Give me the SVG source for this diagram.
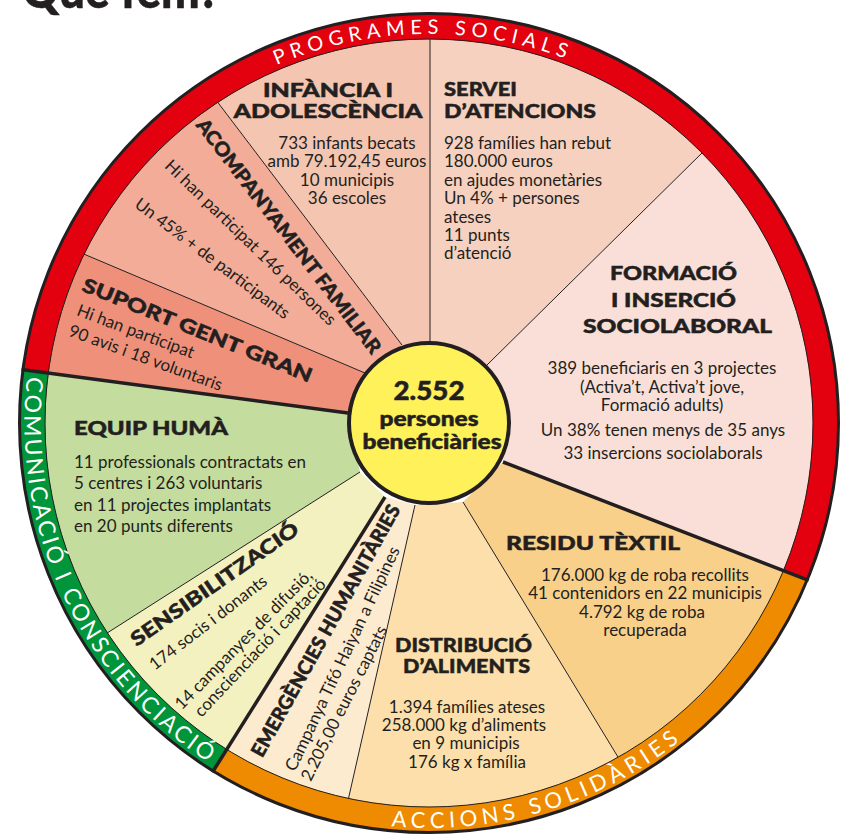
<svg xmlns="http://www.w3.org/2000/svg" width="854" height="835" viewBox="0 0 854 835">
<style>
.t{font-family:Lato,"Open Sans","Liberation Sans",sans-serif;fill:#231F20}
.h{font-weight:900;font-size:19.5px;stroke:#231F20;stroke-width:0.5}
.k{stroke:#231F20;stroke-width:0.5}
.b{font-size:17px}
.rt{font-family:Lato,"Open Sans","Liberation Sans",sans-serif;fill:#fff}
.thin{stroke:#231F20;stroke-width:1;fill:none}
.thick{stroke:#231F20;stroke-width:3.5;fill:none}
</style>
<defs>
<clipPath id="disk"><circle cx="429" cy="423" r="390"/></clipPath>
<path id="arcTop" d="M44.9,361.5 A389,389 0 0 1 811,349.4"/>
<path id="arcLeft" d="M96.2,192.9 A405,405 0 0 0 396.2,826.7"/>
<path id="arcBottom" d="M151.6,718.1 A405,405 0 0 0 823.3,515.5"/>
</defs>
<rect width="854" height="835" fill="#fff"/>
<text class="t k" x="22" y="8" font-size="52" font-weight="900" textLength="198" lengthAdjust="spacingAndGlyphs">Què fem?</text>

<g id="sectors" clip-path="url(#disk)">
<g id="infancia"><path d="M402,345 L34,-139 L430,-266 L430,342 Z" fill="#F4C5B1"/></g>
<g id="servei"><path d="M430,342 L430,-266 L917,-59 L487,365 Z" fill="#F7D1BF"/></g>
<g id="formacio"><path d="M487,365 L917,-59 L1071,682 L503,462 Z" fill="#F9DFD7"/></g>
<g id="residu"><path d="M503,462 L1071,682 L777,1018 L463,502 Z" fill="#F9D08A"/></g>
<g id="distribucio"><path d="M463,502 L777,1018 L281,1099 L415,505 Z" fill="#FCDFAA"/></g>
<g id="emergencies"><path d="M415,505 L281,1099 L67,1005 L385,497 Z" fill="#FDEBD0"/></g>
<g id="sensibilitzacio"><path d="M385,497 L67,1005 L-146,794 L360,472 Z" fill="#F4F1C1"/></g>
<g id="equip"><path d="M360,472 L-146,794 L-254,333 L348,413 Z" fill="#C4DC9D"/></g>
<g id="suport"><path d="M348,413 L-254,333 L-201,133 L365,373 Z" fill="#EF917A"/></g>
<g id="acompanyament"><path d="M365,373 L-201,133 L34,-139 L402,345 Z" fill="#F2AC97"/></g>
</g>

<g id="connectors">
<line class="thin" x1="430" y1="342" x2="430" y2="36"/>
<line class="thin" x1="487" y1="365" x2="704" y2="151"/>
<line class="thin" x1="463" y1="502" x2="621" y2="762"/>
<line class="thin" x1="415" y1="505" x2="347" y2="805"/>
<line class="thin" x1="360" y1="472" x2="104" y2="635"/>
<line class="thin" x1="365" y1="373" x2="79" y2="252"/>
<line class="thin" x1="402" y1="345" x2="216" y2="100"/>
</g>

<g id="ring">
<path d="M35.6,371.6 A396.75,396.75 0 1 1 795.4,575.2" fill="none" stroke="#E3000F" stroke-width="26"/>
<path d="M795.4,575.2 A396.75,396.75 0 0 1 219.9,760.2" fill="none" stroke="#EE8B00" stroke-width="26"/>
<path d="M219.9,760.2 A396.75,396.75 0 0 1 35.6,371.6" fill="none" stroke="#00953A" stroke-width="26"/>
<circle cx="429" cy="423" r="384" fill="none" stroke="#231F20" stroke-width="1"/>
<circle cx="429" cy="423" r="409.5" fill="none" stroke="#231F20" stroke-width="3"/>
<text class="rt" font-size="20" letter-spacing="5.5" text-anchor="middle"><textPath href="#arcTop" startOffset="50%">PROGRAMES SOCIALS</textPath></text>
<text class="rt" font-size="23" letter-spacing="2.6" text-anchor="middle"><textPath href="#arcLeft" startOffset="50%">COMUNICACIÓ I CONSCIENCIACIÓ</textPath></text>
<text class="rt" font-size="22" letter-spacing="4.9" text-anchor="middle"><textPath href="#arcBottom" startOffset="50%">ACCIONS SOLIDÀRIES</textPath></text>
</g>

<g id="thick-connectors">
<line class="thick" x1="503" y1="462" x2="808.7" y2="580.4"/>
<line class="thick" x1="385" y1="497" x2="212.4" y2="772.3"/>
<line class="thick" x1="348" y1="413" x2="21.5" y2="369.6"/>
</g>

<g id="center">
<circle cx="429" cy="423" r="80" fill="#FFF159" stroke="#231F20" stroke-width="4"/>
<text class="t k" x="429" y="400" font-size="26" font-weight="900" text-anchor="middle" textLength="71" lengthAdjust="spacingAndGlyphs">2.552</text>
<text class="t k" x="429" y="426" font-size="21" font-weight="900" text-anchor="middle" textLength="99" lengthAdjust="spacingAndGlyphs">persones</text>
<text class="t k" x="432" y="449" font-size="21" font-weight="900" text-anchor="middle" textLength="139" lengthAdjust="spacingAndGlyphs">beneficiàries</text>
</g>

<g id="t-infancia">
<text class="t h" x="328" y="97" text-anchor="middle" textLength="130" lengthAdjust="spacingAndGlyphs">INFÀNCIA I</text>
<text class="t h" x="328" y="118" text-anchor="middle" textLength="189" lengthAdjust="spacingAndGlyphs">ADOLESCÈNCIA</text>
<text class="t b" text-anchor="middle"><tspan x="347" y="149">733 infants becats</tspan><tspan x="347" y="167">amb 79.192,45 euros</tspan><tspan x="347" y="186">10 municipis</tspan><tspan x="347" y="204">36 escoles</tspan></text>
</g>

<g id="t-servei">
<text class="t h" x="444" y="96" textLength="73" lengthAdjust="spacingAndGlyphs">SERVEI</text>
<text class="t h" x="444" y="118" textLength="152" lengthAdjust="spacingAndGlyphs">D’ATENCIONS</text>
<text class="t b"><tspan x="444" y="149">928 famílies han rebut</tspan><tspan x="444" y="167">180.000 euros</tspan><tspan x="444" y="186">en ajudes monetàries</tspan><tspan x="444" y="204">Un 4% + persones</tspan><tspan x="444" y="223">ateses</tspan><tspan x="444" y="241">11 punts</tspan><tspan x="444" y="259">d’atenció</tspan></text>
</g>

<g id="t-formacio">
<text class="t h" x="673.5" y="280" text-anchor="middle" textLength="127" lengthAdjust="spacingAndGlyphs">FORMACIÓ</text>
<text class="t h" x="673.5" y="307" text-anchor="middle" textLength="125" lengthAdjust="spacingAndGlyphs">I INSERCIÓ</text>
<text class="t h" x="677.5" y="333" text-anchor="middle" textLength="189" lengthAdjust="spacingAndGlyphs">SOCIOLABORAL</text>
<text class="t b" text-anchor="middle"><tspan x="662" y="374">389 beneficiaris en 3 projectes</tspan><tspan x="662" y="393">(Activa’t, Activa’t jove,</tspan><tspan x="662" y="411">Formació adults)</tspan><tspan x="663" y="436">Un 38% tenen menys de 35 anys</tspan><tspan x="663" y="459">33 insercions sociolaborals</tspan></text>
</g>

<g id="t-acompanyament">
<text class="t h" transform="translate(289,236) rotate(52.5)" dy="0.36em" text-anchor="middle" textLength="290" lengthAdjust="spacingAndGlyphs">ACOMPANYAMENT FAMILIAR</text>
<text class="t b" transform="translate(250,243) rotate(43.9)" dy="0.3em" text-anchor="middle">Hi han participat 146 persones</text>
<text class="t b" transform="translate(212,259) rotate(36.9)" dy="0.3em" text-anchor="middle">Un 45% + de participants</text>
</g>

<g id="t-suport">
<text class="t h" transform="translate(197.5,330) rotate(22)" dy="0.36em" text-anchor="middle" textLength="246" lengthAdjust="spacingAndGlyphs">SUPORT GENT GRAN</text>
<text class="t b" transform="translate(135.5,332) rotate(20.5)" dy="0.3em" text-anchor="middle">Hi han participat</text>
<text class="t b" transform="translate(145.5,358.5) rotate(20)" dy="0.3em" text-anchor="middle">90 avis i 18 voluntaris</text>
</g>

<g id="t-equip">
<text class="t h" x="74" y="435" textLength="154" lengthAdjust="spacingAndGlyphs">EQUIP HUMÀ</text>
<text class="t b"><tspan x="74" y="468">11 professionals contractats en</tspan><tspan x="74" y="489">5 centres i 263 voluntaris</tspan><tspan x="74" y="511">en 11 projectes implantats</tspan><tspan x="74" y="532">en 20 punts diferents</tspan></text>
</g>

<g id="t-sensibilitzacio">
<text class="t h" transform="translate(214.5,584) rotate(-34.9)" dy="0.36em" text-anchor="middle" textLength="200" lengthAdjust="spacingAndGlyphs">SENSIBILITZACIÓ</text>
<text class="t b" transform="translate(208.5,623) rotate(-37.5)" dy="0.3em" text-anchor="middle">174 socis i donants</text>
<text class="t b" transform="translate(244,640) rotate(-45.5)" dy="0.3em" text-anchor="middle">14 campanyes de difusió,</text>
<text class="t b" transform="translate(260.5,648) rotate(-46.6)" dy="0.3em" text-anchor="middle">conscienciació i captació</text>
</g>

<g id="t-emergencies">
<text class="t h" transform="translate(325.5,630.5) rotate(-60.9)" dy="0.36em" text-anchor="middle" textLength="285" lengthAdjust="spacingAndGlyphs">EMERGÈNCIES HUMANITÀRIES</text>
<text class="t b" transform="translate(343,659) rotate(-64.7)" dy="0.3em" text-anchor="middle">Campanya Tifó Haiyan a Filipines</text>
<text class="t b" transform="translate(344.5,703.5) rotate(-63.3)" dy="0.3em" text-anchor="middle">2.205,00 euros captats</text>
</g>

<g id="t-distribucio">
<text class="t h" x="463.5" y="652" text-anchor="middle" textLength="137" lengthAdjust="spacingAndGlyphs">DISTRIBUCIÓ</text>
<text class="t h" x="466.5" y="673" text-anchor="middle" textLength="127" lengthAdjust="spacingAndGlyphs">D’ALIMENTS</text>
<text class="t b" text-anchor="middle"><tspan x="467" y="713">1.394 famílies ateses</tspan><tspan x="464" y="731">258.000 kg d’aliments</tspan><tspan x="466" y="749">en 9 municipis</tspan><tspan x="467" y="768">176 kg x família</tspan></text>
</g>

<g id="t-residu">
<text class="t h" x="593" y="550" text-anchor="middle" textLength="174" lengthAdjust="spacingAndGlyphs">RESIDU TÈXTIL</text>
<text class="t b" text-anchor="middle"><tspan x="645" y="581">176.000 kg de roba recollits</tspan><tspan x="645" y="599">41 contenidors en 22 municipis</tspan><tspan x="642" y="618">4.792 kg de roba</tspan><tspan x="645" y="636">recuperada</tspan></text>
</g>
</svg>
